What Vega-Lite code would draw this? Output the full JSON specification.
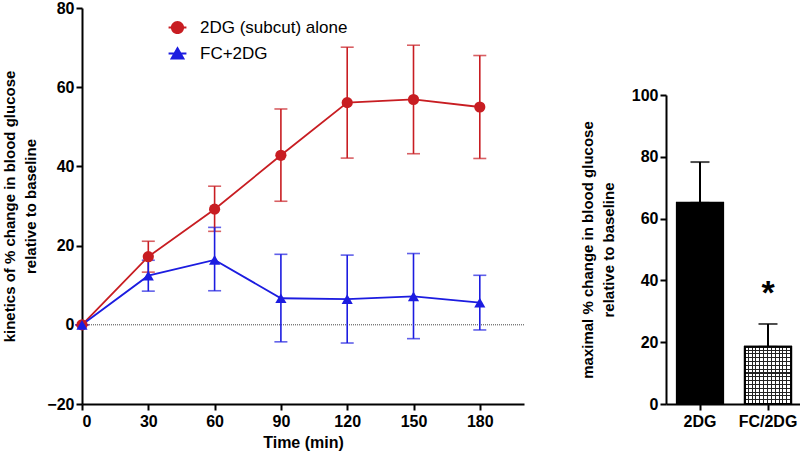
{
  "$schema": "https://vega.github.io/schema/vega-lite/v6.json",
  "background": "white",
  "padding": {"left": 2, "top": 0, "right": 0, "bottom": 4},
  "spacing": 55,
  "config": {
    "font": "Liberation Sans",
    "view": {"stroke": null},
    "axis": {
      "grid": false,
      "labelFont": "Liberation Sans",
      "labelFontWeight": "bold",
      "labelFontSize": 16,
      "labelColor": "black",
      "domainColor": "black",
      "domainWidth": 2,
      "tickColor": "black",
      "tickWidth": 2,
      "tickSize": 6,
      "titleFont": "Liberation Sans",
      "titleFontWeight": "bold",
      "titleFontSize": 15,
      "titleColor": "black"
    },
    "legend": {"labelColor": "black"}
  },
  "hconcat": [
    {
      "width": 442,
      "height": 396,
      "resolve": {"axis": {"x": "independent", "y": "independent"}, "legend": {"color": "independent", "shape": "independent"}, "scale": {"shape": "independent"}},
      "data": {
        "values": [
          {"group": "2DG (subcut) alone", "t": 0, "mean": 0, "lo": 0, "hi": 0},
          {"group": "2DG (subcut) alone", "t": 30, "mean": 17.2, "lo": 13.3, "hi": 21.1},
          {"group": "2DG (subcut) alone", "t": 60, "mean": 29.2, "lo": 23.6, "hi": 35.0},
          {"group": "2DG (subcut) alone", "t": 90, "mean": 42.8, "lo": 31.2, "hi": 54.5},
          {"group": "2DG (subcut) alone", "t": 120, "mean": 56.1, "lo": 42.1, "hi": 70.1},
          {"group": "2DG (subcut) alone", "t": 150, "mean": 56.9, "lo": 43.2, "hi": 70.6},
          {"group": "2DG (subcut) alone", "t": 180, "mean": 55.0, "lo": 42.0, "hi": 68.0},
          {"group": "FC+2DG", "t": 0, "mean": 0, "lo": 0, "hi": 0},
          {"group": "FC+2DG", "t": 30, "mean": 12.4, "lo": 8.5, "hi": 16.3},
          {"group": "FC+2DG", "t": 60, "mean": 16.4, "lo": 8.6, "hi": 24.6},
          {"group": "FC+2DG", "t": 90, "mean": 6.7, "lo": -4.3, "hi": 17.8},
          {"group": "FC+2DG", "t": 120, "mean": 6.5, "lo": -4.6, "hi": 17.6},
          {"group": "FC+2DG", "t": 150, "mean": 7.2, "lo": -3.5, "hi": 18.0},
          {"group": "FC+2DG", "t": 180, "mean": 5.6, "lo": -1.3, "hi": 12.5}
        ]
      },
      "layer": [
        {
          "data": {"values": [{"z": 0}]},
          "mark": {"type": "rule", "strokeDash": [1, 1], "color": "#444", "strokeWidth": 1},
          "encoding": {"y": {"field": "z", "type": "quantitative", "axis": null}}
        },
        {
          "mark": {"type": "errorbar", "ticks": {"size": 13}, "thickness": 1.6},
          "encoding": {
            "x": {"field": "t", "type": "quantitative", "axis": null},
            "y": {"field": "lo", "type": "quantitative", "axis": null},
            "y2": {"field": "hi"},
            "color": {"field": "group", "type": "nominal", "legend": null}
          }
        },
        {
          "mark": {"type": "line", "strokeWidth": 1.8},
          "encoding": {
            "x": {"field": "t", "type": "quantitative", "axis": null},
            "y": {"field": "mean", "type": "quantitative", "axis": null},
            "color": {"field": "group", "type": "nominal", "legend": null}
          }
        },
        {
          "mark": {"type": "point", "filled": true, "size": 0, "opacity": 0},
          "encoding": {
            "x": {"field": "t", "type": "quantitative", "axis": null},
            "y": {"field": "mean", "type": "quantitative", "axis": null},
            "color": {
              "field": "group", "type": "nominal",
              "legend": {"orient": "none", "legendX": 87, "legendY": 11, "title": null, "labelFontSize": 17, "labelFont": "Liberation Sans", "labelFontWeight": "normal", "symbolSize": 175, "symbolOpacity": 1, "symbolStrokeWidth": 0, "rowPadding": 8, "labelOffset": 14}
            },
            "shape": {
              "field": "group", "type": "nominal",
              "scale": {"domain": ["2DG (subcut) alone", "FC+2DG"], "range": ["M-1.35,-0.14H1.35V0.14H-1.35Z M1,0A1,1 0 1,1 -1,0A1,1 0 1,1 1,0Z", "M-1.35,-0.14H1.35V0.14H-1.35Z M0,-1.1L1.15,0.9L-1.15,0.9Z"]},
              "legend": {"orient": "none", "legendX": 87, "legendY": 11, "title": null, "labelFontSize": 17, "labelFont": "Liberation Sans", "labelFontWeight": "normal", "symbolSize": 175, "symbolOpacity": 1, "symbolStrokeWidth": 0, "rowPadding": 8, "labelOffset": 14}
            }
          }
        },
        {
          "mark": {"type": "point", "filled": true, "size": 125, "opacity": 1},
          "encoding": {
            "x": {
              "field": "t", "type": "quantitative",
              "scale": {"domain": [0, 200], "nice": false, "zero": false},
              "axis": {"values": [0, 30, 60, 90, 120, 150, 180], "title": "Time (min)", "titleFontSize": 16, "titlePadding": 5, "labelPadding": 3}
            },
            "y": {
              "field": "mean", "type": "quantitative",
              "scale": {"domain": [-20, 80], "nice": false},
              "axis": {"values": [-20, 0, 20, 40, 60, 80], "title": ["kinetics of % change in blood glucose", "relative to baseline"], "titleLineHeight": 21, "titlePadding": 8, "labelPadding": 2}
            },
            "color": {
              "field": "group", "type": "nominal",
              "scale": {"domain": ["2DG (subcut) alone", "FC+2DG"], "range": ["#c81d22", "#1c1ce0"]},
              "legend": null
            },
            "shape": {
              "field": "group", "type": "nominal",
              "scale": {"domain": ["2DG (subcut) alone", "FC+2DG"], "range": ["circle", "triangle-up"]},
              "legend": null
            }
          }
        }
      ]
    },
    {
      "width": 136,
      "height": 396,
      "resolve": {"axis": {"x": "independent", "y": "independent"}},
      "data": {
        "values": [
          {"group": "2DG", "value": 65.1, "hi": 78.3},
          {"group": "FC/2DG", "value": 18.5, "hi": 25.9}
        ]
      },
      "layer": [
        {
          "mark": {"type": "errorbar", "ticks": {"size": 19}, "thickness": 2, "color": "black"},
          "encoding": {
            "x": {"field": "group", "type": "nominal", "axis": null},
            "y": {"field": "value", "type": "quantitative", "axis": null},
            "y2": {"field": "hi"}
          }
        },
        {
          "transform": [{"filter": "datum.group === '2DG'"}],
          "mark": {"type": "bar", "fill": "black", "stroke": "black", "strokeWidth": 2},
          "encoding": {
            "x": {
              "field": "group", "type": "nominal",
              "scale": {"domain": ["2DG", "FC/2DG"], "paddingInner": 0.32, "paddingOuter": 0.16},
              "axis": {"labelAngle": 0, "title": null, "labelPadding": 3}
            },
            "y": {
              "field": "value", "type": "quantitative",
              "scale": {"domain": [0, 100], "nice": false, "range": [396, 87]},
              "axis": {"values": [0, 20, 40, 60, 80, 100], "title": ["maximal % change in blood glucose", "relative to baseline"], "titleLineHeight": 21, "titlePadding": 15, "labelPadding": 2}
            }
          }
        },
        {
          "transform": [{"filter": "datum.group === 'FC/2DG'"}],
          "mark": {
            "type": "bar", "stroke": "black", "strokeWidth": 2,
            "fill": {"gradient": "linear", "x1": 0, "y1": 0, "x2": 0, "y2": 1, "stops": [
              {"offset": 0, "color": "white"}, {"offset": 0.0487, "color": "white"}, {"offset": 0.0487, "color": "#222"}, {"offset": 0.0667, "color": "#222"},
              {"offset": 0.0667, "color": "white"}, {"offset": 0.1153, "color": "white"}, {"offset": 0.1153, "color": "#222"}, {"offset": 0.1333, "color": "#222"},
              {"offset": 0.1333, "color": "white"}, {"offset": 0.182, "color": "white"}, {"offset": 0.182, "color": "#222"}, {"offset": 0.2, "color": "#222"},
              {"offset": 0.2, "color": "white"}, {"offset": 0.2487, "color": "white"}, {"offset": 0.2487, "color": "#222"}, {"offset": 0.2667, "color": "#222"},
              {"offset": 0.2667, "color": "white"}, {"offset": 0.3153, "color": "white"}, {"offset": 0.3153, "color": "#222"}, {"offset": 0.3333, "color": "#222"},
              {"offset": 0.3333, "color": "white"}, {"offset": 0.382, "color": "white"}, {"offset": 0.382, "color": "#222"}, {"offset": 0.4, "color": "#222"},
              {"offset": 0.4, "color": "white"}, {"offset": 0.4487, "color": "white"}, {"offset": 0.4487, "color": "#222"}, {"offset": 0.4667, "color": "#222"},
              {"offset": 0.4667, "color": "white"}, {"offset": 0.5153, "color": "white"}, {"offset": 0.5153, "color": "#222"}, {"offset": 0.5333, "color": "#222"},
              {"offset": 0.5333, "color": "white"}, {"offset": 0.582, "color": "white"}, {"offset": 0.582, "color": "#222"}, {"offset": 0.6, "color": "#222"},
              {"offset": 0.6, "color": "white"}, {"offset": 0.6487, "color": "white"}, {"offset": 0.6487, "color": "#222"}, {"offset": 0.6667, "color": "#222"},
              {"offset": 0.6667, "color": "white"}, {"offset": 0.7153, "color": "white"}, {"offset": 0.7153, "color": "#222"}, {"offset": 0.7333, "color": "#222"},
              {"offset": 0.7333, "color": "white"}, {"offset": 0.782, "color": "white"}, {"offset": 0.782, "color": "#222"}, {"offset": 0.8, "color": "#222"},
              {"offset": 0.8, "color": "white"}, {"offset": 0.8487, "color": "white"}, {"offset": 0.8487, "color": "#222"}, {"offset": 0.8667, "color": "#222"},
              {"offset": 0.8667, "color": "white"}, {"offset": 0.9153, "color": "white"}, {"offset": 0.9153, "color": "#222"}, {"offset": 0.9333, "color": "#222"},
              {"offset": 0.9333, "color": "white"}, {"offset": 1, "color": "white"}
            ]}
          },
          "encoding": {
            "x": {"field": "group", "type": "nominal", "axis": null},
            "y": {"field": "value", "type": "quantitative", "axis": null}
          }
        },
        {
          "transform": [{"filter": "datum.group === 'FC/2DG'"}],
          "mark": {
            "type": "bar", "stroke": "black", "strokeWidth": 2,
            "fill": {"gradient": "linear", "x1": 0, "y1": 0, "x2": 1, "y2": 0, "stops": [
              {"offset": 0, "color": "rgba(0,0,0,0)"}, {"offset": 0.0613, "color": "rgba(0,0,0,0)"}, {"offset": 0.0613, "color": "#222"}, {"offset": 0.0833, "color": "#222"},
              {"offset": 0.0833, "color": "rgba(0,0,0,0)"}, {"offset": 0.1447, "color": "rgba(0,0,0,0)"}, {"offset": 0.1447, "color": "#222"}, {"offset": 0.1667, "color": "#222"},
              {"offset": 0.1667, "color": "rgba(0,0,0,0)"}, {"offset": 0.228, "color": "rgba(0,0,0,0)"}, {"offset": 0.228, "color": "#222"}, {"offset": 0.25, "color": "#222"},
              {"offset": 0.25, "color": "rgba(0,0,0,0)"}, {"offset": 0.3113, "color": "rgba(0,0,0,0)"}, {"offset": 0.3113, "color": "#222"}, {"offset": 0.3333, "color": "#222"},
              {"offset": 0.3333, "color": "rgba(0,0,0,0)"}, {"offset": 0.3947, "color": "rgba(0,0,0,0)"}, {"offset": 0.3947, "color": "#222"}, {"offset": 0.4167, "color": "#222"},
              {"offset": 0.4167, "color": "rgba(0,0,0,0)"}, {"offset": 0.478, "color": "rgba(0,0,0,0)"}, {"offset": 0.478, "color": "#222"}, {"offset": 0.5, "color": "#222"},
              {"offset": 0.5, "color": "rgba(0,0,0,0)"}, {"offset": 0.5613, "color": "rgba(0,0,0,0)"}, {"offset": 0.5613, "color": "#222"}, {"offset": 0.5833, "color": "#222"},
              {"offset": 0.5833, "color": "rgba(0,0,0,0)"}, {"offset": 0.6447, "color": "rgba(0,0,0,0)"}, {"offset": 0.6447, "color": "#222"}, {"offset": 0.6667, "color": "#222"},
              {"offset": 0.6667, "color": "rgba(0,0,0,0)"}, {"offset": 0.728, "color": "rgba(0,0,0,0)"}, {"offset": 0.728, "color": "#222"}, {"offset": 0.75, "color": "#222"},
              {"offset": 0.75, "color": "rgba(0,0,0,0)"}, {"offset": 0.8113, "color": "rgba(0,0,0,0)"}, {"offset": 0.8113, "color": "#222"}, {"offset": 0.8333, "color": "#222"},
              {"offset": 0.8333, "color": "rgba(0,0,0,0)"}, {"offset": 0.8947, "color": "rgba(0,0,0,0)"}, {"offset": 0.8947, "color": "#222"}, {"offset": 0.9167, "color": "#222"},
              {"offset": 0.9167, "color": "rgba(0,0,0,0)"}, {"offset": 1, "color": "rgba(0,0,0,0)"}
            ]}
          },
          "encoding": {
            "x": {"field": "group", "type": "nominal", "axis": null},
            "y": {"field": "value", "type": "quantitative", "axis": null}
          }
        },
        {
          "data": {"values": [{"group": "FC/2DG", "label": "*", "pos": 35.5}]},
          "mark": {"type": "text", "fontSize": 34, "fontWeight": "bold", "font": "Liberation Sans", "baseline": "middle", "color": "black"},
          "encoding": {
            "x": {"field": "group", "type": "nominal", "axis": null},
            "y": {"field": "pos", "type": "quantitative", "axis": null},
            "text": {"field": "label"}
          }
        }
      ]
    }
  ]
}
